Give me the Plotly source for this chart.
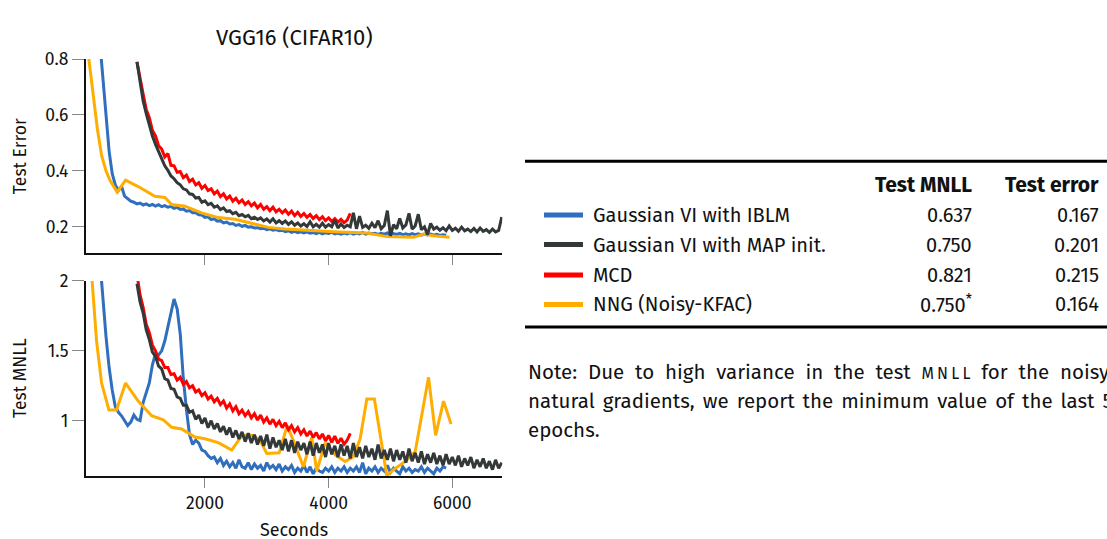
import plotly.graph_objects as go

# ------------------------------------------------------------------ data
SERIES = ["Gaussian VI with IBLM", "Gaussian VI with MAP init.", "MCD", "NNG (Noisy-KFAC)"]
COLORS = ["#2f6fbe", "#333838", "#ff0000", "#ffad00"]

# sample times (seconds) for the densely logged runs
t_blue = list(range(300, 5901, 50))     # IBLM
t_black = list(range(900, 6801, 50))    # MAP init.
t_red = list(range(900, 4351, 50))      # MCD

# --- Test error
err_blue = [0.86, 0.72, 0.6, 0.47, 0.39, 0.35, 0.33, 0.345, 0.31, 0.3,
            0.292, 0.288, 0.282, 0.285, 0.278, 0.282, 0.276, 0.28, 0.274, 0.279,
            0.272, 0.276, 0.27, 0.273, 0.266, 0.27, 0.262, 0.264, 0.256, 0.258,
            0.25, 0.25, 0.243, 0.242, 0.234, 0.236, 0.226, 0.229, 0.22, 0.222,
            0.214, 0.217, 0.21, 0.212, 0.205, 0.208, 0.202, 0.205, 0.199, 0.2,
            0.196, 0.197, 0.193, 0.195, 0.19, 0.193, 0.188, 0.19, 0.186, 0.188,
            0.183, 0.186, 0.18, 0.184, 0.179, 0.182, 0.178, 0.182, 0.177, 0.18,
            0.176, 0.18, 0.175, 0.179, 0.176, 0.18, 0.175, 0.178, 0.174, 0.178,
            0.175, 0.179, 0.174, 0.178, 0.175, 0.18, 0.174, 0.178, 0.175, 0.177,
            0.173, 0.177, 0.174, 0.178, 0.172, 0.176, 0.173, 0.177, 0.172, 0.175,
            0.171, 0.176, 0.172, 0.175, 0.17, 0.174, 0.171, 0.174, 0.17, 0.173,
            0.169, 0.172, 0.17]
err_black = [0.79, 0.715, 0.65, 0.605, 0.56, 0.525, 0.495, 0.468, 0.44, 0.418,
             0.402, 0.382, 0.372, 0.358, 0.35, 0.336, 0.332, 0.318, 0.316, 0.303,
             0.305, 0.288, 0.293, 0.279, 0.284, 0.27, 0.275, 0.262, 0.268, 0.255,
             0.258, 0.247, 0.252, 0.24, 0.244, 0.236, 0.241, 0.229, 0.234, 0.226,
             0.232, 0.221, 0.228, 0.217, 0.229, 0.214, 0.222, 0.212, 0.221, 0.209,
             0.218, 0.206, 0.214, 0.203, 0.211, 0.201, 0.218, 0.2, 0.209, 0.199,
             0.213, 0.199, 0.208, 0.2, 0.224, 0.196, 0.21, 0.198, 0.206, 0.2,
             0.25, 0.193, 0.238, 0.198, 0.206, 0.195, 0.213, 0.197, 0.222, 0.193,
             0.205, 0.258, 0.168, 0.208, 0.193, 0.23, 0.196, 0.207, 0.248, 0.192,
             0.203, 0.245, 0.19, 0.2, 0.172, 0.212, 0.192, 0.199, 0.188, 0.197,
             0.186, 0.203, 0.187, 0.195, 0.184, 0.199, 0.186, 0.192, 0.183, 0.194,
             0.182, 0.196, 0.184, 0.19, 0.18, 0.192, 0.182, 0.187, 0.235]
err_red = [0.79, 0.725, 0.675, 0.62, 0.59, 0.545, 0.525, 0.49, 0.478, 0.45,
           0.462, 0.42, 0.418, 0.395, 0.398, 0.376, 0.385, 0.362, 0.37, 0.35,
           0.358, 0.338, 0.348, 0.33, 0.336, 0.318, 0.328, 0.308, 0.318, 0.3,
           0.31, 0.292, 0.302, 0.286, 0.296, 0.28, 0.29, 0.275, 0.285, 0.268,
           0.28, 0.263, 0.272, 0.258, 0.27, 0.254, 0.263, 0.25, 0.26, 0.245,
           0.256, 0.24, 0.252, 0.237, 0.248, 0.234, 0.244, 0.23, 0.24, 0.226,
           0.236, 0.222, 0.232, 0.219, 0.229, 0.217, 0.227, 0.215, 0.224, 0.248]
t_nng_err = [100, 192, 260, 328, 400, 462, 580, 716, 920, 1190, 1352, 1461, 1676,
             1946, 2215, 2486, 2756, 3025, 3295, 3600, 4077, 4618, 4942, 5373,
             5535, 5697, 5956]
err_nng = [0.84, 0.677, 0.55, 0.455, 0.4, 0.367, 0.324, 0.367, 0.344, 0.309, 0.305,
           0.28, 0.274, 0.25, 0.233, 0.227, 0.213, 0.198, 0.192, 0.188, 0.1825,
           0.178, 0.165, 0.1625, 0.174, 0.168, 0.1625]

# --- Test MNLL
mnll_blue = [2.15, 1.87, 1.6, 1.38, 1.22, 1.10, 1.06, 1.035, 1.0, 0.965,
             0.99, 1.04, 1.01, 1.0, 1.13, 1.21, 1.27, 1.40, 1.48, 1.47,
             1.50, 1.57, 1.66, 1.77, 1.87, 1.80, 1.62, 1.3, 1.08, 0.9,
             0.83, 0.86, 0.84, 0.79, 0.78, 0.75, 0.73, 0.74, 0.70, 0.73,
             0.68, 0.71, 0.67, 0.70, 0.66, 0.72, 0.67, 0.66, 0.70, 0.65,
             0.69, 0.66, 0.68, 0.64, 0.70, 0.66, 0.68, 0.65, 0.69, 0.64,
             0.67, 0.65, 0.68, 0.63, 0.66, 0.64, 0.68, 0.63, 0.67, 0.62,
             0.66, 0.64, 0.63, 0.66, 0.64, 0.67, 0.63, 0.66, 0.64, 0.67,
             0.63, 0.66, 0.64, 0.67, 0.63, 0.70, 0.62, 0.66, 0.64, 0.67,
             0.63, 0.66, 0.64, 0.68, 0.63, 0.66, 0.64, 0.62, 0.67, 0.64,
             0.66, 0.63, 0.65, 0.64, 0.67, 0.63, 0.66, 0.64, 0.62, 0.66,
             0.64, 0.67, 0.66]
mnll_black = [1.98, 1.85, 1.77, 1.65, 1.58, 1.49, 1.46, 1.39, 1.37, 1.30,
              1.29, 1.23, 1.225, 1.17, 1.16, 1.11, 1.11, 1.06, 1.07, 1.01,
              1.04, 0.98, 1.02, 0.95, 1.0, 0.94, 0.98, 0.92, 0.96, 0.9,
              0.95, 0.88, 0.93, 0.87, 0.92, 0.85, 0.91, 0.84, 0.90, 0.83,
              0.89, 0.82, 0.9, 0.8, 0.88, 0.81, 0.86, 0.79, 0.87, 0.78,
              0.86, 0.77, 0.85, 0.79, 0.84, 0.76, 0.85, 0.75, 0.84, 0.77,
              0.83, 0.74, 0.84, 0.76, 0.82, 0.74, 0.83, 0.75, 0.82, 0.73,
              0.84, 0.74, 0.81, 0.73, 0.82, 0.74, 0.80, 0.72, 0.83, 0.73,
              0.79, 0.72, 0.8, 0.71, 0.79, 0.72, 0.78, 0.7, 0.8, 0.71,
              0.77, 0.7, 0.78, 0.69, 0.76, 0.7, 0.77, 0.69, 0.75, 0.68,
              0.76, 0.69, 0.74, 0.68, 0.75, 0.67, 0.73, 0.68, 0.74, 0.66,
              0.72, 0.67, 0.73, 0.66, 0.71, 0.65, 0.72, 0.66, 0.7]
mnll_red = [2.05, 1.9, 1.81, 1.69, 1.63, 1.54, 1.50, 1.44, 1.43, 1.38,
            1.38, 1.33, 1.335, 1.29, 1.31, 1.26, 1.28, 1.235, 1.25, 1.205,
            1.22, 1.18, 1.2, 1.155, 1.175, 1.135, 1.16, 1.115, 1.14, 1.09,
            1.12, 1.07, 1.1, 1.05, 1.075, 1.035, 1.065, 1.02, 1.05, 1.005,
            1.04, 0.99, 1.02, 0.975, 1.01, 0.965, 0.995, 0.95, 0.985, 0.935,
            0.965, 0.92, 0.95, 0.905, 0.935, 0.89, 0.925, 0.88, 0.915, 0.87,
            0.905, 0.855, 0.895, 0.845, 0.89, 0.838, 0.875, 0.832, 0.86, 0.91]
t_nng_mnll = [150, 246, 328, 446, 570, 716, 920, 1137, 1325, 1461, 1622, 1838,
              2000, 2215, 2432, 2600, 2760, 2890, 3000, 3200, 3330, 3440, 3592,
              3727, 3808, 3943, 4105, 4267, 4401, 4510, 4618, 4740, 4942, 5050,
              5238, 5400, 5616, 5730, 5859, 5980]
mnll_nng = [2.15, 1.572, 1.269, 1.077, 1.077, 1.269, 1.14, 1.035, 1.007, 0.953,
            0.941, 0.883, 0.871, 0.843, 0.79, 0.895, 0.895, 0.86, 0.766, 0.77,
            0.965, 0.848, 0.67, 0.88, 0.64, 0.84, 0.755, 0.708, 0.743, 0.87,
            1.155, 1.155, 0.605, 0.65, 0.708, 0.778, 1.31, 0.895, 1.14, 0.976]

# --- table
TABLE_HEAD = ["Test MNLL", "Test error"]
TABLE_MNLL = ["0.637", "0.750", "0.821", "0.750<sup>*</sup>"]
TABLE_ERR = ["0.167", "0.201", "0.215", "0.164"]

TITLE = "VGG16 (CIFAR10)"
X_TICKS = [2000, 4000, 6000]
ERR_TICKS = [0.2, 0.4, 0.6, 0.8]
MNLL_TICKS = [1, 1.5, 2]
NOTE_WORDS = [
    ["Note:", "Due", "to", "high", "variance", "in", "the", "test",
     "<span style=\"font-size:16px\">M\u2009N\u2009L\u2009L</span>", "for", "the", "noisy"],
    ["natural", "gradients,", "we", "report", "the", "minimum", "value", "of", "the", "last", "5"],
    ["epochs."],
]

# ------------------------------------------------------------------ figure
W, H = 1107, 539
FONT = "Fira Sans, Noto Sans, sans-serif"


def fx(p):
    return p / W


def fy(p):
    return 1 - p / H


fig = go.Figure()

top = [(t_blue, err_blue, 0), (t_nng_err, err_nng, 3), (t_red, err_red, 2), (t_black, err_black, 1)]
bot = [(t_blue, mnll_blue, 0), (t_nng_mnll, mnll_nng, 3), (t_red, mnll_red, 2), (t_black, mnll_black, 1)]
for xs, ys, k in top:
    fig.add_trace(go.Scatter(x=xs, y=ys, mode="lines", name=SERIES[k],
                             line=dict(color=COLORS[k], width=3), xaxis="x", yaxis="y",
                             showlegend=False))
for xs, ys, k in bot:
    fig.add_trace(go.Scatter(x=xs, y=ys, mode="lines", name=SERIES[k],
                             line=dict(color=COLORS[k], width=3), xaxis="x2", yaxis="y2",
                             showlegend=False))

axis_common = dict(showline=True, linecolor="#111", linewidth=1.5, showgrid=False,
                   zeroline=False, ticks="outside", tickcolor="#888", tickwidth=1,
                   tickfont=dict(family=FONT, size=17.5, color="#111"))
xdom = [fx(85.7), fx(502.3)]
fig.update_layout(
    width=W, height=H, margin=dict(l=0, r=0, t=0, b=0),
    paper_bgcolor="white", plot_bgcolor="white", showlegend=False,
    font=dict(family=FONT, color="#111"),
    xaxis=dict(axis_common, domain=xdom, range=[71, 6809], anchor="y",
               tickvals=X_TICKS, showticklabels=False, ticklen=10),
    yaxis=dict(axis_common, domain=[fy(248), fy(50)], range=[0.105, 0.8], anchor="x",
               tickvals=ERR_TICKS, ticktext=[f"{v:.1f}" for v in ERR_TICKS], ticklen=12),
    xaxis2=dict(axis_common, domain=xdom, range=[71, 6809], anchor="y2",
                tickvals=X_TICKS, ticklen=10),
    yaxis2=dict(axis_common, domain=[fy(475), fy(276)], range=[0.603, 2], anchor="x2",
                tickvals=MNLL_TICKS, ticktext=["1", "1.5", "2"], ticklen=12),
)

ann = []


def text(x, y, s, size, xanchor="center", angle=0, bold=False):
    ann.append(dict(x=fx(x), y=fy(y), xref="paper", yref="paper", text=s, showarrow=False,
                    xanchor=xanchor, yanchor="middle", textangle=angle,
                    font=dict(family=FONT, size=size, color="#111",
                              weight="bold" if bold else "normal")))


text(294, 28, TITLE, 22)
text(20, 149, "Test Error", 17.5, angle=-90)
text(20, 375, "Test MNLL", 17.5, angle=-90)
text(294, 530, "Seconds", 18)

# table
ROW_Y = [209, 239, 270, 300]
text(974, 178, TABLE_HEAD[0], 21, xanchor="right", bold=True)
text(1101, 178, TABLE_HEAD[1], 21, xanchor="right", bold=True)
shapes = [
    dict(type="line", xref="paper", yref="paper", x0=fx(525), x1=1.0, y0=fy(154), y1=fy(154),
         line=dict(color="#000", width=3)),
    dict(type="line", xref="paper", yref="paper", x0=fx(525), x1=1.0, y0=fy(323), y1=fy(323),
         line=dict(color="#000", width=3)),
]
for i, ry in enumerate(ROW_Y):
    shapes.append(dict(type="line", xref="paper", yref="paper", x0=fx(544), x1=fx(583),
                       y0=fy(ry), y1=fy(ry), line=dict(color=COLORS[i], width=5)))
    text(591, ry, SERIES[i], 20, xanchor="left")
    text(974, ry, TABLE_MNLL[i], 20, xanchor="right")
    text(1101, ry, TABLE_ERR[i], 20, xanchor="right")

# justified note paragraph: extra inter-word space on the stretched lines
GAPS = [" \u2009\u200a", " \u200a\u200a", " "]
for i, words in enumerate(NOTE_WORDS):
    text(526, 369 + 29.5 * i, GAPS[i].join(words), 20.5, xanchor="left")

fig.update_layout(annotations=ann, shapes=shapes)
fig.write_html("out.html", config={"displayModeBar": False},
               post_script="document.body.style.margin='0';")
